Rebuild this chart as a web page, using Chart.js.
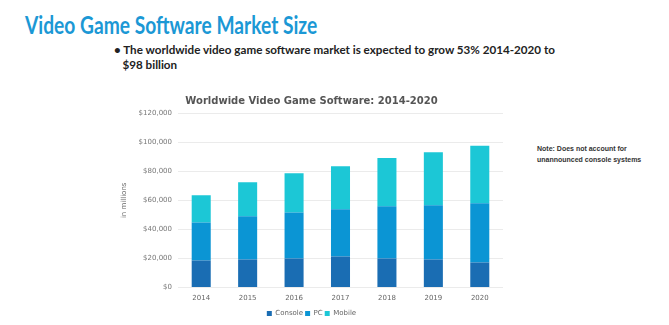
<!DOCTYPE html>
<html>
<head>
<meta charset="utf-8">
<script src="https://cdn.jsdelivr.net/npm/chart.js@4"></script>
<style>
  html, body { margin: 0; padding: 0; background: #fff; }
  body { width: 669px; height: 325px; position: relative; overflow: hidden; }
  .title { position: absolute; left: 25px; top: 10px; font: bold 24px Lato, 'Open Sans', sans-serif; color: #1b98d5; transform: scaleX(0.80); transform-origin: left top; white-space: nowrap; }
  .bullet { position: absolute; left: 114px; top: 42px; font: bold 12px Lato, sans-serif; color: #222; line-height: 15px; white-space: nowrap; transform: scaleX(0.97); transform-origin: left top; }
  .note { position: absolute; left: 537px; top: 143px; font: bold 7px 'Liberation Sans', Arial, sans-serif; color: #333; line-height: 11px; }
  #wrap { position: absolute; left: 0; top: 0; width: 669px; height: 327px; }
</style>
</head>
<body>
<div class="title">Video Game Software Market Size</div>
<div class="bullet">• The worldwide video game software market is expected to grow 53% 2014-2020 to<br>&nbsp;&nbsp;&nbsp;$98 billion</div>
<div class="note">Note: Does not account for<br>unannounced console systems</div>
<div id="wrap"><canvas id="chart"></canvas></div>
<script>
// values in $ millions
const years   = ['2014', '2015', '2016', '2017', '2018', '2019', '2020'];
const console_ = [18600, 19300, 20000, 21400, 20000, 19300, 17200];
const pc      = [26200, 29700, 31700, 32400, 35900, 37300, 40700];
const mobile  = [18600, 23400, 26900, 29600, 33100, 36500, 39600];

const tickFont = { family: 'DejaVu Sans', size: 7 };

new Chart(document.getElementById('chart'), {
  type: 'bar',
  data: {
    labels: years,
    datasets: [
      { label: 'Console', data: console_, backgroundColor: '#1a6db3' },
      { label: 'PC',      data: pc,       backgroundColor: '#0b95d4' },
      { label: 'Mobile',  data: mobile,   backgroundColor: '#1cc7d6' },
    ],
  },
  options: {
    responsive: true,
    maintainAspectRatio: false,
    animation: false,
    layout: { padding: { left: 120, right: 166, top: 90, bottom: 0 } },
    datasets: { bar: { barPercentage: 0.41, categoryPercentage: 1 } },
    plugins: {
      title: {
        display: true,
        text: 'Worldwide Video Game Software: 2014-2020',
        color: '#555',
        font: { family: 'DejaVu Sans', size: 10, weight: 'bold' },
        padding: { top: 5, bottom: 6 },
      },
      legend: {
        position: 'bottom',
        labels: {
          boxWidth: 5, boxHeight: 5, padding: 2,
          color: '#666',
          font: { family: 'DejaVu Sans', size: 7 },
        },
      },
      tooltip: { enabled: false },
    },
    scales: {
      x: {
        stacked: true,
        grid: { display: false, drawTicks: false },
        border: { display: false },
        ticks: { color: '#666', font: tickFont, padding: 6 },
      },
      y: {
        stacked: true,
        min: 0, max: 120000,
        afterFit(scale) { scale.width = 58; },
        title: { display: true, text: 'in millions', color: '#666', font: tickFont, padding: 0 },
        border: { display: false },
        grid: { color: '#ebebeb', drawTicks: false },
        ticks: {
          stepSize: 20000,
          color: '#777',
          font: tickFont,
          padding: 6,
          callback: v => '$' + v.toLocaleString('en-US'),
        },
      },
    },
  },
});
</script>
</body>
</html>
